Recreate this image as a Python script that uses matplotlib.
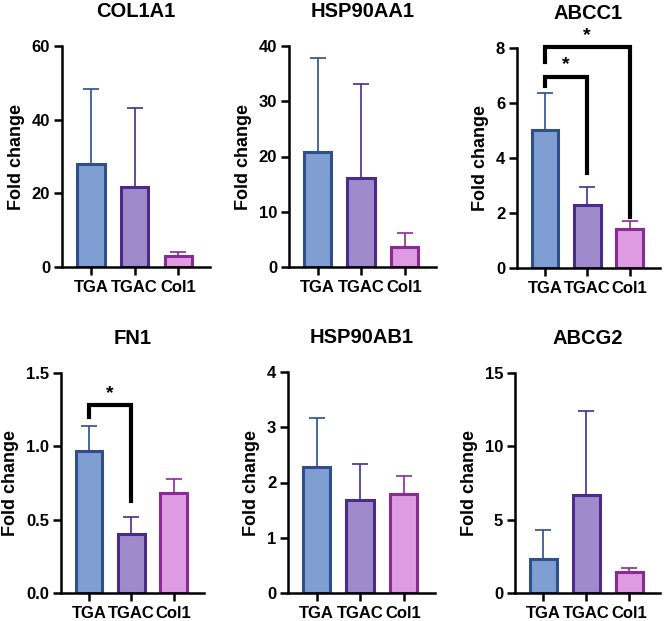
import matplotlib
matplotlib.use('Agg')
import matplotlib.pyplot as plt
import numpy as np

plt.rcParams['font.family'] = ['Liberation Sans', 'DejaVu Sans']
plt.rcParams['font.weight'] = 'bold'

# groups and colours
groups = ['TGA', 'TGAC', 'Col1']
fill_colors = ['#7f9fd3', '#9f8acb', '#de9be2']
edge_colors = ['#2d4f8c', '#4a2b8c', '#8c2a94']

# mean values and top of the error bar (mean + SD) for each gene
genes = ['COL1A1', 'HSP90AA1', 'ABCC1', 'FN1', 'HSP90AB1', 'ABCG2']
col1a1_mean = [28.0, 21.8, 3.0]
col1a1_top = [48.3, 43.3, 4.0]
hsp90aa1_mean = [20.9, 16.1, 3.6]
hsp90aa1_top = [37.9, 33.2, 6.2]
abcc1_mean = [5.0, 2.3, 1.43]
abcc1_top = [6.37, 2.95, 1.7]
fn1_mean = [0.97, 0.40, 0.68]
fn1_top = [1.14, 0.52, 0.78]
hsp90ab1_mean = [2.28, 1.69, 1.80]
hsp90ab1_top = [3.16, 2.33, 2.11]
abcg2_mean = [2.3, 6.7, 1.4]
abcg2_top = [4.3, 12.4, 1.7]

means = [col1a1_mean, hsp90aa1_mean, abcc1_mean, fn1_mean, hsp90ab1_mean, abcg2_mean]
tops = [col1a1_top, hsp90aa1_top, abcc1_top, fn1_top, hsp90ab1_top, abcg2_top]
ymax = [60, 40, 8, 1.5, 4, 15]
ystep = [20, 10, 2, 0.5, 1, 5]

# significance brackets: (gene index, bar a, bar b, bracket y, left leg end, right leg end)
brackets = [
    (2, 0, 1, 6.95, 6.6, 3.45),
    (2, 0, 2, 8.03, 7.5, 1.85),
    (3, 0, 1, 1.28, 1.2, 0.63),
]

W, H = 666, 621
fig = plt.figure(figsize=(W / 100, H / 100), dpi=100)

# axes boxes in pixels: left, top, right, bottom
boxes = [
    (62, 46, 210, 267),
    (289, 46, 436, 267),
    (517, 48, 660, 268),
    (61, 373, 204, 593),
    (288, 372, 435, 593),
    (515, 373, 660, 593),
]

axes = []
for i, gene in enumerate(genes):
    l, t, r, b = boxes[i]
    ax = fig.add_axes([l / W, 1 - b / H, (r - l) / W, (b - t) / H])
    axes.append(ax)
    x = np.arange(len(groups))
    m = np.array(means[i])
    up = np.array(tops[i]) - m
    for j in range(len(groups)):
        ax.errorbar(x[j], m[j], yerr=[[0], [up[j]]], color=edge_colors[j],
                    elinewidth=1.2, capsize=6, capthick=1.2, zorder=1)
    ax.bar(x, m, width=0.63, color=fill_colors, edgecolor=edge_colors,
           linewidth=2.2, zorder=2)
    ax.set_xlim(-0.66, 2.72)
    ax.set_ylim(0, ymax[i])
    ax.set_yticks(np.arange(0, ymax[i] + ystep[i] / 2, ystep[i]))
    if ystep[i] < 1:
        ax.set_yticklabels([f'{v:.1f}' for v in ax.get_yticks()])
    ax.set_xticks(x)
    ax.set_xticklabels(groups)
    for s in ['top', 'right']:
        ax.spines[s].set_visible(False)
    for s in ['left', 'bottom']:
        ax.spines[s].set_linewidth(1.8)
    ax.tick_params(axis='both', width=1.8, length=5.5, labelsize=12, pad=3)
    ax.tick_params(axis='x', pad=4)
    ax.set_ylabel('Fold change', fontsize=13, fontweight='bold', labelpad=5)
    ax.set_title(gene, fontsize=14.5, fontweight='bold', pad=21)

for gi, a, b, yb, ya_end, yb_end in brackets:
    ax = axes[gi]
    ax.plot([a, a, b, b], [ya_end, yb, yb, yb_end], color='black', lw=3,
            solid_joinstyle='miter', clip_on=False, zorder=5)
    ax.text((a + b) / 2, yb + ymax[gi] * 0.015, '*', ha='center', va='bottom',
            fontsize=14, fontweight='bold', clip_on=False)

fig.savefig('out.png', dpi=100, facecolor='white')
